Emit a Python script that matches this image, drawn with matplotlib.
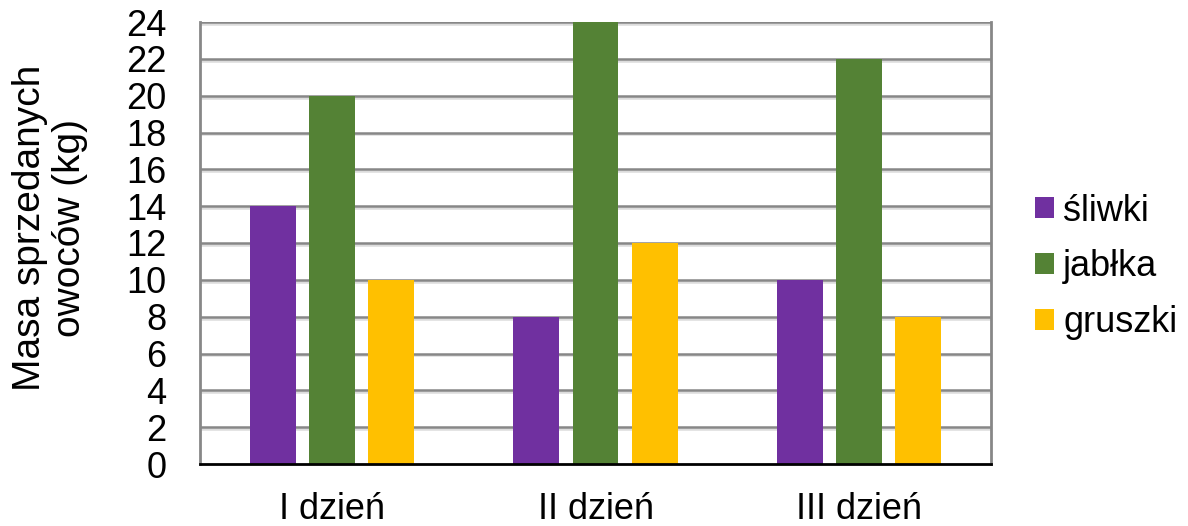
import matplotlib
matplotlib.use("Agg")
import matplotlib.pyplot as plt
import matplotlib.patheffects as pe
import numpy as np
from matplotlib.patches import Patch

categories = ["I dzień", "II dzień", "III dzień"]
series_names = ["śliwki", "jabłka", "gruszki"]
sliwki = [14, 8, 10]
jablka = [20, 24, 22]
gruszki = [10, 12, 8]
colors = ["#7030A0", "#548235", "#FFC000"]
yticks = list(range(0, 25, 2))

plt.rcParams['font.family'] = ['Liberation Sans', 'DejaVu Sans']

fig = plt.figure(figsize=(11.88, 5.26), dpi=100)
ax = fig.add_axes([200/1188, 1-464/526, 791/1188, 442/526])

x = np.arange(len(categories))
width = 0.174
offset = 0.224
for i, (vals, c) in enumerate(zip([sliwki, jablka, gruszki], colors)):
    ax.bar(x + (i-1)*offset, vals, width, color=c, zorder=3)

ax.set_xlim(-0.5, 2.5)
ax.set_ylim(0, 24)
ax.set_yticks(yticks)
ax.set_yticklabels([str(t) for t in yticks], fontsize=26)
ax.set_xticks(x)
ax.set_xticklabels(categories, fontsize=26)
ax.tick_params(axis='y', length=0, pad=24)
ax.tick_params(axis='x', length=0, pad=20)

shadow = [pe.SimpleLineShadow(offset=(0, -1.4), shadow_color='#dcdcdc', alpha=1.0), pe.Normal()]
for t in yticks[1:]:
    ax.axhline(t, color='#878787', linewidth=1.8, zorder=1, path_effects=shadow)

for s in ['left', 'right']:
    ax.spines[s].set_color('#878787')
    ax.spines[s].set_linewidth(2)
ax.spines['top'].set_visible(False)
ax.spines['bottom'].set_color('black')
ax.spines['bottom'].set_linewidth(2)
ax.spines['bottom'].set_zorder(4)

fig.text(50/1188, 1-228/526, "Masa sprzedanych\nowoców (kg)", rotation=90,
         ha='center', va='center', fontsize=28, linespacing=1.15, multialignment='center')

handles = [Patch(facecolor=c, label=n) for c, n in zip(colors, series_names)]
fig.legend(handles=handles, loc='center left', bbox_to_anchor=(1035/1188, 1-267/526),
           frameon=False, fontsize=26, handlelength=0.53, handleheight=0.53,
           handletextpad=0.25, labelspacing=0.58, borderaxespad=0, borderpad=0)

fig.savefig("out.png", dpi=100)
